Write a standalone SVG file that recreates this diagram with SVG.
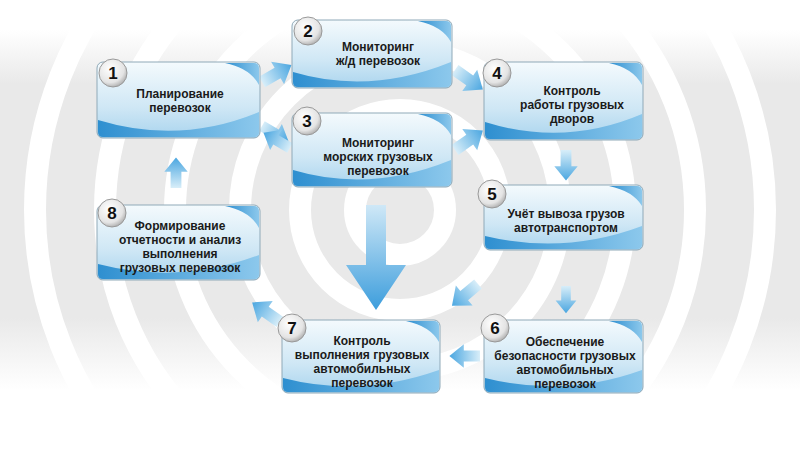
<svg xmlns="http://www.w3.org/2000/svg" width="800" height="450" viewBox="0 0 800 450">
<defs>
<linearGradient id="box" x1="0" y1="0" x2="0" y2="1"><stop offset="0" stop-color="#f4fafd"/><stop offset="0.6" stop-color="#cfe7f5"/><stop offset="1" stop-color="#a9d4ee"/></linearGradient>
<linearGradient id="wave" x1="0" y1="0" x2="1" y2="0"><stop offset="0" stop-color="#2e8fd0"/><stop offset="1" stop-color="#8cc8ec"/></linearGradient>
<linearGradient id="arr" x1="0" y1="0" x2="1" y2="0"><stop offset="0" stop-color="#d8eef9"/><stop offset="1" stop-color="#4aa6e0"/></linearGradient>
<linearGradient id="arrv" x1="0" y1="0" x2="0" y2="1"><stop offset="0" stop-color="#cfe8f7"/><stop offset="1" stop-color="#3c9ddc"/></linearGradient>
<linearGradient id="bg" x1="0" y1="0" x2="0" y2="1"><stop offset="0" stop-color="#ffffff"/><stop offset="0.15" stop-color="#e9e9e9"/><stop offset="0.8" stop-color="#e9e9e9"/><stop offset="1" stop-color="#ffffff"/></linearGradient>
<radialGradient id="num" cx="0.4" cy="0.35" r="0.7"><stop offset="0" stop-color="#ffffff"/><stop offset="0.7" stop-color="#e4e4e4"/><stop offset="1" stop-color="#a8a8a8"/></radialGradient>
<path id="ah" d="M0,-6 L18,-6 L18,-13 L34,0 L18,13 L18,6 L0,6 Z"/>
</defs>
<style>
.b{fill:url(#box);stroke:#8fa9b8;stroke-width:1}
.w{fill:url(#wave)}
.t{font-family:"Liberation Sans",Arial,sans-serif;font-weight:bold;font-size:12px;fill:#1a1a1a;text-anchor:middle}
.n{font-family:"Liberation Sans",Arial,sans-serif;font-weight:bold;font-size:17px;fill:#111;text-anchor:middle}
.c{fill:url(#num);stroke:#999;stroke-width:1}
.ring{fill:none;stroke:#ffffff;stroke-width:22}
.a{fill:url(#arr)}
</style>
<rect width="800" height="450" fill="#ffffff"/>
<rect x="0" y="30" width="800" height="360" fill="url(#bg)"/>
<g>
<circle class="ring" cx="400" cy="210" r="45"/>
<circle class="ring" cx="400" cy="210" r="100"/>
<circle class="ring" cx="400" cy="210" r="160"/>
<circle class="ring" cx="400" cy="210" r="225"/>
<circle class="ring" cx="400" cy="210" r="295"/>
<circle class="ring" cx="400" cy="210" r="365"/>
</g>
<g id="connectors">
<use href="#ah" class="a" transform="translate(262,82) rotate(-30)"/>
<use href="#ah" class="a" transform="translate(262,126) rotate(30) scale(0.9)"/>
<use href="#ah" class="a" transform="translate(290,148) rotate(210) scale(0.9)"/>
<use href="#ah" class="a" transform="translate(455,70) rotate(35)"/>
<use href="#ah" class="a" transform="translate(455,150) rotate(-35)"/>
<use href="#ah" class="a" transform="translate(566,150) rotate(90) scale(0.9)"/>
<use href="#ah" class="a" transform="translate(566,286) rotate(90) scale(0.8)"/>
<use href="#ah" class="a" transform="translate(478,284) rotate(140)"/>
<use href="#ah" class="a" transform="translate(480,356) rotate(180) scale(0.9)"/>
<use href="#ah" class="a" transform="translate(280,322) rotate(-145)"/>
<use href="#ah" class="a" transform="translate(176,188) rotate(-90) scale(0.9)"/>
<path d="M366,205 L386,205 L386,265 L406,265 L376,310 L346,265 L366,265 Z" fill="url(#arrv)"/>
</g>
<g id="n1"><rect class="b" x="97" y="62" width="163" height="76" rx="6"/><path class="w" d="M98,120 Q180,145 259,112 L259,132 Q259,137 254,137 L103,137 Q98,137 98,132 Z"/><path class="w" d="M225,63 L254,63 Q259,63 259,68 L259,85 Q250,68 225,63 Z"/><text class="t" x="180" y="98">Планирование</text><text class="t" x="180" y="112">перевозок</text><circle class="c" cx="113" cy="73" r="14"/><text class="n" x="113" y="79">1</text></g>
<g id="n2"><rect class="b" x="292" y="20" width="160" height="68" rx="6"/><path class="w" d="M293,72 Q370,95 451,62 L451,82 Q451,87 446,87 L298,87 Q293,87 293,82 Z"/><path class="w" d="M418,21 L446,21 Q451,21 451,26 L451,42 Q442,26 418,21 Z"/><text class="t" x="378" y="51">Мониторинг</text><text class="t" x="378" y="65">ж/д перевозок</text><circle class="c" cx="308" cy="31" r="14"/><text class="n" x="308" y="37">2</text></g>
<g id="n3"><rect class="b" x="292" y="113" width="160" height="74" rx="6"/><path class="w" d="M293,170 Q370,193 451,160 L451,181 Q451,186 446,186 L298,186 Q293,186 293,181 Z"/><path class="w" d="M418,114 L446,114 Q451,114 451,119 L451,135 Q442,119 418,114 Z"/><text class="t" x="378" y="147">Мониторинг</text><text class="t" x="378" y="161">морских грузовых</text><text class="t" x="378" y="175">перевозок</text><circle class="c" cx="307" cy="121" r="14"/><text class="n" x="307" y="127">3</text></g>
<g id="n4"><rect class="b" x="484" y="62" width="159" height="78" rx="6"/><path class="w" d="M485,122 Q565,147 642,114 L642,134 Q642,139 637,139 L490,139 Q485,139 485,134 Z"/><path class="w" d="M609,63 L637,63 Q642,63 642,68 L642,85 Q633,68 609,63 Z"/><text class="t" x="572" y="95">Контроль</text><text class="t" x="572" y="109">работы грузовых</text><text class="t" x="572" y="123">дворов</text><circle class="c" cx="497" cy="73" r="14"/><text class="n" x="497" y="79">4</text></g>
<g id="n5"><rect class="b" x="484" y="185" width="159" height="65" rx="6"/><path class="w" d="M485,236 Q565,255 642,226 L642,244 Q642,249 637,249 L490,249 Q485,249 485,244 Z"/><path class="w" d="M609,186 L637,186 Q642,186 642,191 L642,206 Q633,191 609,186 Z"/><text class="t" x="566" y="218">Учёт вывоза грузов</text><text class="t" x="566" y="232">автотранспортом</text><circle class="c" cx="492" cy="194" r="14"/><text class="n" x="492" y="200">5</text></g>
<g id="n6"><rect class="b" x="484" y="320" width="159" height="73" rx="6"/><path class="w" d="M485,378 Q565,398 642,370 L642,387 Q642,392 637,392 L490,392 Q485,392 485,387 Z"/><path class="w" d="M609,321 L637,321 Q642,321 642,326 L642,342 Q633,326 609,321 Z"/><text class="t" x="565" y="346">Обеспечение</text><text class="t" x="565" y="360">безопасности грузовых</text><text class="t" x="565" y="374">автомобильных</text><text class="t" x="565" y="388">перевозок</text><circle class="c" cx="495" cy="328" r="14"/><text class="n" x="495" y="334">6</text></g>
<g id="n7"><rect class="b" x="282" y="320" width="158" height="73" rx="6"/><path class="w" d="M283,378 Q360,398 439,370 L439,387 Q439,392 434,392 L288,392 Q283,392 283,387 Z"/><path class="w" d="M406,321 L434,321 Q439,321 439,326 L439,342 Q430,326 406,321 Z"/><text class="t" x="362" y="345">Контроль</text><text class="t" x="362" y="359">выполнения грузовых</text><text class="t" x="362" y="373">автомобильных</text><text class="t" x="362" y="387">перевозок</text><circle class="c" cx="292" cy="328" r="14"/><text class="n" x="292" y="334">7</text></g>
<g id="n8"><rect class="b" x="97" y="205" width="163" height="75" rx="6"/><path class="w" d="M98,264 Q180,285 259,255 L259,274 Q259,279 254,279 L103,279 Q98,279 98,274 Z"/><path class="w" d="M225,206 L254,206 Q259,206 259,211 L259,228 Q250,211 225,206 Z"/><text class="t" x="180" y="230">Формирование</text><text class="t" x="180" y="244">отчетности и анализ</text><text class="t" x="180" y="258">выполнения</text><text class="t" x="180" y="272">грузовых перевозок</text><circle class="c" cx="112" cy="213" r="14"/><text class="n" x="112" y="219">8</text></g>
</svg>
